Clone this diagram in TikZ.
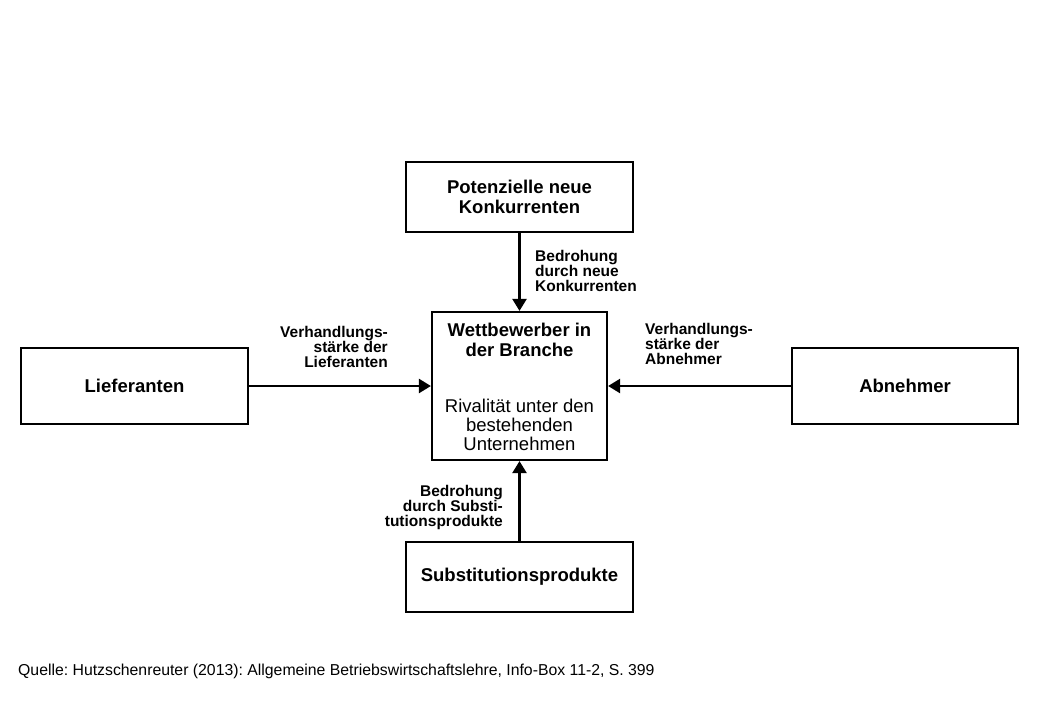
\documentclass[tikz,border=0pt]{standalone}
\usepackage{fontspec}
\setmainfont{Liberation Sans}
\usetikzlibrary{arrows.meta}
\frenchspacing
\begin{document}
\begin{tikzpicture}[x=1pt,y=-1pt,
  box/.style={draw=black,line width=2.2pt,minimum width=227pt,minimum height=70pt,inner sep=0pt,align=center,font=\fontsize{18.5}{20}\selectfont\bfseries},
  arr/.style={line width=2.4pt,-{Triangle[length=12pt,width=14pt]}},
  lbl/.style={font=\fontsize{15.5}{15}\selectfont\bfseries,inner sep=0pt}]
\useasboundingbox (0,0) rectangle (1040,720);
\node[box] (pot) at (519.5,197) {Potenzielle neue\\Konkurrenten};
\node[box,minimum width=175pt,minimum height=148pt] (wet) at (519.5,386) {};
\node[font=\fontsize{18.5}{19.5}\selectfont\bfseries,align=center,inner sep=0pt] (wett) at (519.5,340) {Wettbewerber in\\der Branche};
\node[font=\fontsize{18.5}{19}\selectfont,align=center,inner sep=0pt] (riv) at (519.5,425) {Rivalität unter den\\bestehenden\\Unternehmen};
\node[box,minimum height=76pt] (lie) at (134.5,386) {Lieferanten};
\node[box,minimum width=226pt,minimum height=76pt] (abn) at (905,386) {Abnehmer};
\node[box] (sub) at (519.5,577) {Substitutionsprodukte};
\draw[arr] (pot.south) -- (wet.north);
\draw[arr] (sub.north) -- (wet.south);
\draw[arr] (lie.east) -- (wet.west);
\draw[arr] (abn.west) -- (wet.east);
\node[lbl,align=left,anchor=west] (l1) at (535,271) {Bedrohung\\durch neue\\Konkurrenten};
\node[lbl,align=right,anchor=east] (l2) at (388,347) {Verhandlungs-\\stärke der\\Lieferanten};
\node[lbl,align=left,anchor=west] (l3) at (645,344) {Verhandlungs-\\stärke der\\Abnehmer};
\node[lbl,align=right,anchor=east] (l4) at (503,507) {Bedrohung\\durch Substi-\\tutionsprodukte};
\node[font=\fontsize{15.8}{17}\selectfont,anchor=west,inner sep=0pt] (src) at (18,671) {Quelle: Hutzschenreuter (2013): Allgemeine Betriebswirtschaftslehre, Info-Box 11-2, S. 399};
\end{tikzpicture}
\end{document}
